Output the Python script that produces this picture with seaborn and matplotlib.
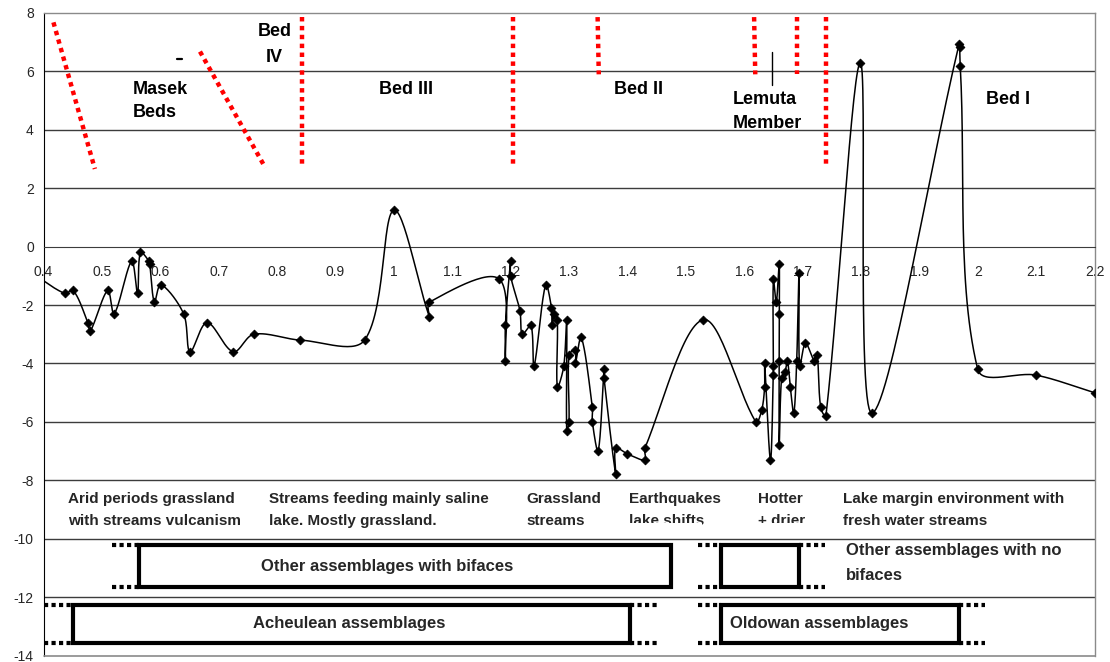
import numpy as np
import matplotlib
matplotlib.use("Agg")
import matplotlib.pyplot as plt
import seaborn as sns
from matplotlib.patches import Rectangle

# ---------------------------------------------------------------
# Climate proxy record against age (Ma), listed in sampling order
# ---------------------------------------------------------------
age = [0.380, 0.436, 0.451, 0.476, 0.480, 0.510, 0.521, 0.551, 0.561, 0.566,
       0.581, 0.582, 0.590, 0.601, 0.640, 0.651, 0.680, 0.725, 0.760, 0.840,
       0.950, 1.000, 1.061, 1.061, 1.180, 1.191, 1.191, 1.200, 1.200, 1.216,
       1.220, 1.235, 1.240, 1.260, 1.270, 1.271, 1.275, 1.280, 1.280, 1.291,
       1.296, 1.296, 1.300, 1.300, 1.311, 1.311, 1.321, 1.340, 1.340, 1.350,
       1.360, 1.360, 1.380, 1.380, 1.400, 1.430, 1.430, 1.530, 1.620, 1.630,
       1.635, 1.635, 1.645, 1.650, 1.650, 1.650, 1.655, 1.660, 1.660, 1.660,
       1.660, 1.664, 1.670, 1.674, 1.679, 1.685, 1.690, 1.694, 1.695, 1.705,
       1.720, 1.725, 1.731, 1.740, 1.799, 1.819, 1.968, 1.969, 1.970, 2.000,
       2.100, 2.200]
proxy = [-0.9, -1.6, -1.5, -2.6, -2.9, -1.5, -2.3, -0.5, -1.6, -0.2,
         -0.5, -0.6, -1.9, -1.3, -2.3, -3.6, -2.6, -3.6, -3.0, -3.2,
         -3.2, 1.25, -2.4, -1.9, -1.1, -3.9, -2.7, -0.5, -1.0, -2.2,
         -3.0, -2.7, -4.1, -1.3, -2.1, -2.7, -2.3, -2.5, -4.8, -4.1,
         -2.5, -6.3, -6.0, -3.7, -3.55, -4.0, -3.1, -5.5, -6.0, -7.0,
         -4.2, -4.5, -7.8, -6.9, -7.1, -7.3, -6.9, -2.5, -6.0, -5.6,
         -4.8, -4.0, -7.3, -4.4, -4.1, -1.1, -1.9, -0.6, -2.3, -3.9,
         -6.8, -4.5, -4.3, -3.9, -4.8, -5.7, -3.9, -0.9, -4.1, -3.3,
         -3.9, -3.7, -5.5, -5.8, 6.3, -5.7, 6.93, 6.83, 6.2, -4.2,
         -4.4, -5.0]

x_ticks = [0.4, 0.5, 0.6, 0.7, 0.8, 0.9, 1.0, 1.1, 1.2, 1.3, 1.4, 1.5,
           1.6, 1.7, 1.8, 1.9, 2.0, 2.1, 2.2]
x_tick_labels = ["0.4", "0.5", "0.6", "0.7", "0.8", "0.9", "1", "1.1", "1.2",
                 "1.3", "1.4", "1.5", "1.6", "1.7", "1.8", "1.9", "2", "2.1",
                 "2.2"]
y_ticks = [8, 6, 4, 2, 0, -2, -4, -6, -8, -10, -12, -14]
y_tick_labels = ["8", "6", "4", "2", "0", "-2", "-4", "-6", "-8", "-10",
                 "-12", "-14"]

# Stratigraphic boundaries (age at top / bottom of each dotted marker)
bound_age_top = [0.417, 0.668, 0.843, 1.2045, 1.349, 1.617, 1.690, 1.740]
bound_val_top = [7.68, 6.68, 7.86, 7.86, 7.86, 7.86, 7.86, 7.86]
bound_age_bot = [0.488, 0.780, 0.843, 1.2045, 1.351, 1.619, 1.690, 1.740]
bound_val_bot = [2.66, 2.70, 2.68, 2.68, 5.90, 5.90, 5.90, 2.68]

# Stratigraphic unit names
unit_lines = ["Bed", "IV", "Masek", "Beds", "Bed III", "Bed II",
              "Lemuta", "Member", "Bed I"]
unit_age = [0.7955, 0.7955, 0.5527, 0.5527, 0.975, 1.3769, 1.580, 1.580, 2.015]
unit_val = [7.35, 6.48, 5.39, 4.59, 5.39, 5.39, 5.05, 4.22, 5.05]

# Environment descriptions
env_line1 = ["Arid periods grassland", "Streams feeding mainly saline",
             "Grassland", "Earthquakes", "Hotter", "Lake margin environment with"]
env_line2 = ["with streams vulcanism", "lake. Mostly grassland.",
             "streams", "lake shifts", "+ drier", "fresh water streams"]
env_age = [0.442, 0.787, 1.2276, 1.402, 1.6238, 1.770]
# text boxes too short for their second line (width of the box in Ma)
env_cut_width = [0, 0, 0, 0.13, 0.09, 0]

# Archaeological assemblage ranges
tool_names = ["Other assemblages with bifaces", "Acheulean assemblages",
              "", "Oldowan assemblages"]
tool_start = [0.564, 0.451, 1.5596, 1.5596]
tool_end = [1.475, 1.405, 1.6935, 1.9675]
tool_lead_in = [0.518, 0.400, 1.521, 1.521]
tool_lead_out = [None, 1.454, 1.738, 2.013]
tool_top = [-10.22, -12.27, -10.22, -12.27]
tool_bottom = [-11.66, -13.57, -11.66, -13.57]

FIG_W, FIG_H = 1110, 662
AX_L, AX_R, AX_T, AX_B = 43.5, 1094.5, 13.0, 655.5
X_RANGE, Y_RANGE = (0.4, 2.2), (-14, 8)
# pixels per data unit, used so the smoothing works in screen proportions
SX = (AX_R - AX_L) / (X_RANGE[1] - X_RANGE[0])
SY = (AX_B - AX_T) / (Y_RANGE[1] - Y_RANGE[0])


def smooth_path(xs, ys, n=30):
    """Bezier smoothing through the points in order, tangent lengths
    scaled by neighbouring segment lengths (avoids overshoot)."""
    pts = np.column_stack([np.asarray(xs, float) * SX,
                           np.asarray(ys, float) * SY])
    ext = np.vstack([pts[0], pts, pts[-1]])
    t = np.linspace(0, 1, n)[:, None]
    parts = []
    for i in range(len(pts) - 1):
        p0, p1, p2, p3 = ext[i], ext[i + 1], ext[i + 2], ext[i + 3]
        d01 = np.hypot(*(p1 - p0))
        d12 = np.hypot(*(p2 - p1))
        d23 = np.hypot(*(p3 - p2))
        c1 = p1 + (p2 - p0) * (d12 / (3 * (d01 + d12)) if d01 + d12 else 0)
        c2 = p2 - (p3 - p1) * (d12 / (3 * (d12 + d23)) if d12 + d23 else 0)
        seg = ((1 - t) ** 3) * p1 + 3 * ((1 - t) ** 2) * t * c1 \
            + 3 * (1 - t) * t ** 2 * c2 + t ** 3 * p2
        parts.append(seg if i == 0 else seg[1:])
    out = np.vstack(parts)
    return out[:, 0] / SX, out[:, 1] / SY


sns.set_style("white")
plt.rcParams["font.family"] = ["Liberation Sans", "DejaVu Sans"]

fig = plt.figure(figsize=(FIG_W / 100, FIG_H / 100), dpi=100)
ax = fig.add_axes([AX_L / FIG_W, 1 - AX_B / FIG_H, (AX_R - AX_L) / FIG_W,
                   (AX_B - AX_T) / FIG_H])

ax.set_xlim(*X_RANGE)
ax.set_ylim(*Y_RANGE)

# horizontal gridlines
for yv in y_ticks:
    if yv in (8, 0, -14):
        continue
    ax.axhline(yv, color="#3c3c3c", lw=1.0, zorder=1)

# smoothed record line + diamond markers
cx, cy = smooth_path(age, proxy)
sns.lineplot(x=cx, y=cy, sort=False, estimator=None,
             color="black", lw=1.1, ax=ax, zorder=3)
sns.scatterplot(x=age, y=proxy, marker="D", s=20, color="black",
                edgecolor="black", linewidth=0.6, ax=ax, zorder=4)

# stratigraphic boundaries
for xa, ya, xb, yb in zip(bound_age_top, bound_val_top, bound_age_bot,
                          bound_val_bot):
    ax.plot([xa, xb], [ya, yb], color="#ff0000", lw=3.2,
            linestyle=(0, (1, 1)), solid_capstyle="butt", zorder=3)
ax.plot([1.648, 1.648], [5.54, 6.66], color="black", lw=1.0, zorder=3)
ax.plot([0.629, 0.638], [6.42, 6.42], color="black", lw=1.6, zorder=3)

for txt, xa, ya in zip(unit_lines, unit_age, unit_val):
    ha = "center" if txt in ("Bed", "IV") else "left"
    ax.text(xa, ya, txt, ha=ha, va="center", fontsize=13,
            fontweight="bold", color="black", zorder=5)

# environment notes
for l1, l2, xa, cut in zip(env_line1, env_line2, env_age, env_cut_width):
    ax.text(xa, -8.64, l1, ha="left", va="center", fontsize=11,
            fontweight="bold", zorder=5)
    ax.text(xa, -9.38, l2, ha="left", va="center", fontsize=11,
            fontweight="bold", zorder=5)
    if cut:
        # the text frame ends just above the baseline of the second line
        ax.add_patch(Rectangle((xa - 0.005, -9.85), cut, 0.38,
                               facecolor="white", edgecolor="none",
                               zorder=5.5))

# assemblage ranges
for name, x0, x1, lin, lout, yt, yb in zip(tool_names, tool_start, tool_end,
                                           tool_lead_in, tool_lead_out,
                                           tool_top, tool_bottom):
    ax.add_patch(Rectangle((x0, yb), x1 - x0, yt - yb, fill=False,
                           edgecolor="black", lw=3.0, zorder=4,
                           joinstyle="miter"))
    for yy in (yt, yb):
        ax.plot([lin, x0], [yy, yy], color="black", lw=3.0,
                linestyle=(0, (1, 0.8)), zorder=4, clip_on=False)
        if lout is not None:
            ax.plot([x1, lout], [yy, yy], color="black", lw=3.0,
                    linestyle=(0, (1, 0.8)), zorder=4)

ax.text(0.988, -10.94, tool_names[0], ha="center", va="center", fontsize=12,
        fontweight="bold", zorder=5)
ax.text(0.923, -12.92, tool_names[1], ha="center", va="center", fontsize=12,
        fontweight="bold", zorder=5)
ax.text(1.576, -12.92, tool_names[3], ha="left", va="center", fontsize=12,
        fontweight="bold", zorder=5)
ax.text(1.775, -10.42, "Other assemblages with no", ha="left", va="center",
        fontsize=12, fontweight="bold", zorder=5)
ax.text(1.775, -11.25, "bifaces", ha="left", va="center", fontsize=12,
        fontweight="bold", zorder=5)

# axes frame: x axis crosses at zero
ax.spines["bottom"].set_position(("data", 0))
ax.spines["bottom"].set_color("#3c3c3c")
ax.spines["left"].set_color("black")
for side in ("top", "right"):
    ax.spines[side].set_color("#8a8a8a")
    ax.spines[side].set_linewidth(1.0)
ax.axhline(-14, color="#8a8a8a", lw=1.2, clip_on=False, zorder=6)

ax.set_xticks(x_ticks)
ax.set_xticklabels(x_tick_labels)
ax.set_yticks(y_ticks)
ax.set_yticklabels(y_tick_labels)
ax.tick_params(axis="x", direction="out", length=4, width=1,
               color="#3c3c3c", labelsize=10, pad=9)
ax.tick_params(axis="y", direction="out", length=4, width=1,
               color="black", labelsize=10, pad=3)
ax.set_xlabel("")
ax.set_ylabel("")

fig.savefig("out.png", dpi=100)
